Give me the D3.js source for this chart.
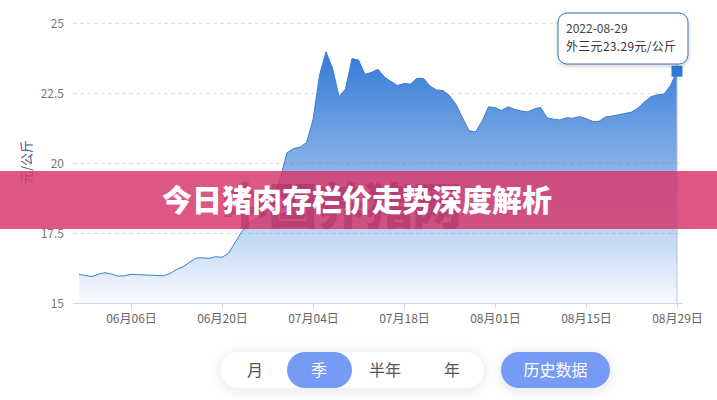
<!DOCTYPE html>
<html><head><meta charset="utf-8">
<script src="https://cdn.jsdelivr.net/npm/d3@7"></script>
<style>
html,body{margin:0;padding:0;background:#fff;}
svg{display:block;font-family:"Noto Sans CJK SC","Noto Sans",sans-serif;}
</style></head>
<body><svg id="c" width="717" height="400"></svg>
<script>
const startDate = "2022-05-29";
const endDate = "2022-08-29";
const prices = [16.04,16.00,15.96,16.05,16.10,16.05,15.98,15.99,16.04,16.03,
16.02,16.01,16.00,15.99,16.07,16.21,16.31,16.47,16.62,16.63,
16.61,16.67,16.65,16.79,17.17,17.55,17.86,17.98,18.12,18.30,
18.80,19.50,20.38,20.53,20.58,20.74,21.55,23.15,23.98,23.40,
22.38,22.66,23.74,23.69,23.18,23.25,23.36,23.08,22.92,22.78,
22.85,22.83,23.04,23.03,22.76,22.62,22.60,22.42,22.10,21.63,
21.17,21.12,21.50,22.02,21.99,21.89,22.02,21.93,21.87,21.84,
21.94,22.00,21.63,21.58,21.55,21.63,21.61,21.67,21.60,21.50,
21.50,21.66,21.69,21.74,21.78,21.83,21.97,22.20,22.38,22.45,
22.47,22.78,23.29];
const xTickDates = ["2022-06-06","2022-06-20","2022-07-04","2022-07-18","2022-08-01","2022-08-15","2022-08-29"];
const yTicks = [15,17.5,20,22.5,25];
const yTitle = "元/公斤";
const tipDate = "2022-08-29";
const tipText = "外三元23.29元/公斤";
const title = "今日猪肉存栏价走势深度解析";
const watermark = "中国养猪网";
const periods = ["月","季","半年","年"];
const activePeriod = "季";
const historyLabel = "历史数据";

const parse = d3.timeParse("%Y-%m-%d");
const dates = d3.timeDay.range(parse(startDate), d3.timeDay.offset(parse(endDate),1));
const data = dates.map((d,i)=>({date:d, v:prices[i]}));

const svg = d3.select("#c");
const defs = svg.append("defs");
const grad = defs.append("linearGradient").attr("id","ag").attr("x1",0).attr("y1",0).attr("x2",0).attr("y2",1);
grad.append("stop").attr("offset","0%").attr("stop-color","#2f78d6").attr("stop-opacity",0.98);
grad.append("stop").attr("offset","45%").attr("stop-color","#2f78d6").attr("stop-opacity",0.58);
grad.append("stop").attr("offset","100%").attr("stop-color","#2f78d6").attr("stop-opacity",0.03);
const sh = defs.append("filter").attr("id","sh").attr("x","-30%").attr("y","-60%").attr("width","160%").attr("height","220%");
sh.append("feDropShadow").attr("dx",0).attr("dy",2).attr("stdDeviation",6).attr("flood-color","#1a2a60").attr("flood-opacity",0.12);
const tsh = defs.append("filter").attr("id","tsh").attr("x","-20%").attr("y","-30%").attr("width","140%").attr("height","170%");
tsh.append("feDropShadow").attr("dx",0).attr("dy",2).attr("stdDeviation",2).attr("flood-color","#000").attr("flood-opacity",0.18);
defs.append("clipPath").attr("id","bclip").append("rect").attr("x",0).attr("y",171).attr("width",717).attr("height",58);

const x = d3.scaleTime().domain([parse(startDate), parse(endDate)]).range([79, 677]);
const y = d3.scaleLinear().domain([15,25]).range([303.5, 23.3]);

// grid
svg.append("g").selectAll("line").data(yTicks.filter(t=>t>15)).join("line")
  .attr("x1",73).attr("x2",683).attr("y1",d=>y(d)).attr("y2",d=>y(d))
  .attr("stroke","#dcdcdc").attr("stroke-dasharray","4,3");

// y labels
svg.append("g").selectAll("text").data(yTicks).join("text")
  .attr("x",64).attr("y",d=>y(d)).attr("dy","0.35em").attr("text-anchor","end")
  .attr("font-size",12).attr("fill","#777").text(d=>d);

// y title
svg.append("text").attr("transform","translate(26,162) rotate(-90)").attr("text-anchor","middle")
  .attr("dy","0.35em").attr("font-size",13).attr("fill","#45597a").text(yTitle);

// area + line
svg.append("path").datum(data).attr("fill","url(#ag)")
  .attr("d", d3.area().x(d=>x(d.date)).y0(y(15)).y1(d=>y(d.v)));
svg.append("path").datum(data).attr("fill","none").attr("stroke","#3d7dd0").attr("stroke-width",1)
  .attr("d", d3.line().x(d=>x(d.date)).y(d=>y(d.v)));

// x axis
svg.append("line").attr("x1",73).attr("x2",683).attr("y1",y(15)).attr("y2",y(15)).attr("stroke","#cfd6e0");
const xa = svg.append("g").attr("transform",`translate(0,${y(15)})`)
  .call(d3.axisBottom(x).tickValues(xTickDates.map(parse)).tickFormat(d3.timeFormat("%m月%d日")).tickSize(5).tickSizeOuter(0));
xa.select(".domain").remove();
xa.selectAll(".tick line").attr("stroke","#cfd6e0");
xa.selectAll(".tick text").attr("font-size",12).attr("fill","#666").attr("font-family","'Noto Sans CJK SC',sans-serif").attr("dy","0.95em");

// pointer line
const last = data[data.length-1];
svg.append("line").attr("x1",x(last.date)).attr("x2",x(last.date)).attr("y1",y(25)).attr("y2",y(15))
  .attr("stroke","#b8c4d4").attr("stroke-width",1);
svg.append("rect").attr("x",x(last.date)-5.5).attr("y",y(last.v)-5.5).attr("width",11).attr("height",11).attr("fill","#2e7bd6");

// tooltip
const tg = svg.append("g");
tg.append("rect").attr("x",558).attr("y",13).attr("width",130).attr("height",51).attr("rx",9)
  .attr("fill","#fff").attr("stroke","#3a6fb0").attr("stroke-width",1).attr("filter","url(#tsh)");
tg.append("text").attr("x",566).attr("y",29).attr("dy","0.35em").attr("font-size",12).attr("fill","#444").text(tipDate);
tg.append("text").attr("x",566).attr("y",47).attr("dy","0.35em").attr("font-size",12).attr("fill","#333").attr("letter-spacing",0.3).text(tipText);

// banner
svg.append("rect").attr("x",0).attr("y",171).attr("width",717).attr("height",58).attr("fill","rgba(214,57,110,0.85)");
svg.append("text").attr("clip-path","url(#bclip)").attr("x",340).attr("y",207).attr("dy","0.35em")
  .attr("text-anchor","middle").attr("font-size",50).attr("font-weight",900).attr("letter-spacing",-2)
  .attr("fill","rgba(120,10,70,0.25)").text(watermark);
svg.append("text").attr("x",357).attr("y",200).attr("dy","0.36em").attr("text-anchor","middle")
  .attr("font-size",30).attr("font-weight",900).attr("fill","#fff").text(title);

// bottom controls
const bg = svg.append("g");
bg.append("rect").attr("x",221).attr("y",352).attr("width",263).attr("height",36).attr("rx",18)
  .attr("fill","#fff").attr("filter","url(#sh)");
const px = [255, 319, 385, 452];
periods.forEach((p,i)=>{
  if(p===activePeriod){
    bg.append("rect").attr("x",287).attr("y",352).attr("width",65).attr("height",36).attr("rx",18).attr("fill","#759bf6");
  }
  bg.append("text").attr("x",px[i]).attr("y",370).attr("dy","0.36em").attr("text-anchor","middle")
    .attr("font-size",16).attr("fill",p===activePeriod?"#fff":"#555").text(p);
});
bg.append("rect").attr("x",501).attr("y",352).attr("width",109).attr("height",36).attr("rx",18)
  .attr("fill","#759bf6").attr("filter","url(#sh)");
bg.append("text").attr("x",555.5).attr("y",370).attr("dy","0.36em").attr("text-anchor","middle")
  .attr("font-size",16).attr("fill","#fff").text(historyLabel);
</script></body></html>
